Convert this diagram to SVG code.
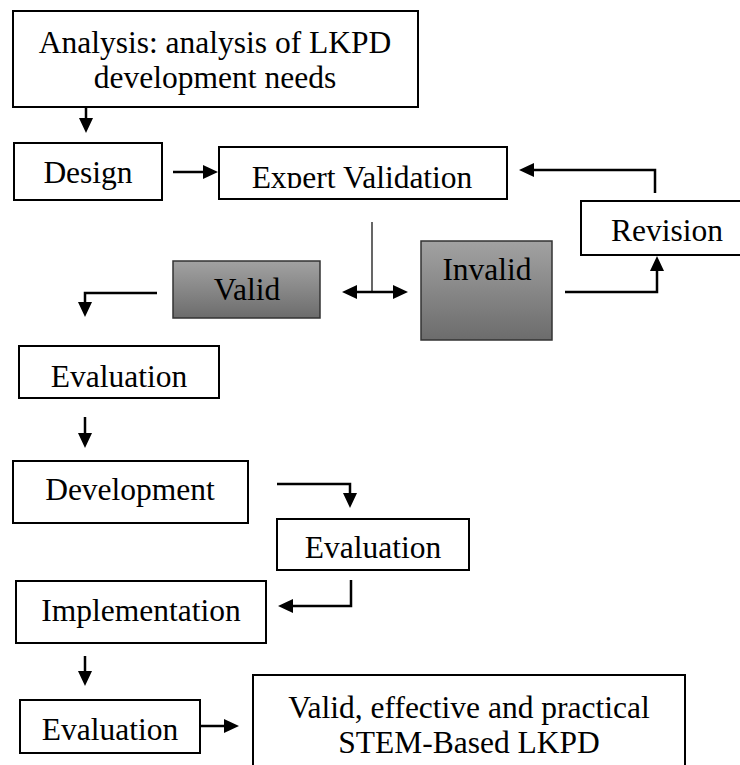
<svg xmlns="http://www.w3.org/2000/svg" width="740" height="765" viewBox="0 0 740 765">
<style>
.box{fill:#fff;stroke:#000;stroke-width:2}
.grey{fill:url(#g);stroke:#333;stroke-width:1.5}
.t{font-family:"Liberation Serif","Times New Roman",serif;font-size:31.5px;fill:#000;text-anchor:middle}
.c{fill:none;stroke:#000;stroke-width:2.5}
.thin{fill:none;stroke:#000;stroke-width:1.2}
</style>
<defs>
<linearGradient id="g" x1="0" y1="0" x2="0" y2="1">
<stop offset="0" stop-color="#a2a2a2"/>
<stop offset="1" stop-color="#6c6c6c"/>
</linearGradient>
<marker id="a" viewBox="0 0 15 14" markerWidth="15" markerHeight="14" refX="11" refY="7" orient="auto-start-reverse" markerUnits="userSpaceOnUse">
<path d="M0,0 L15,7 L0,14 Z" fill="#000"/>
</marker>
<clipPath id="ec"><rect x="219" y="147" width="288" height="41"/></clipPath>
</defs>
<rect width="740" height="765" fill="#fff"/>
<g id="analysis"><rect class="box" x="13" y="11" width="405" height="96"/><text class="t" x="215" y="53">Analysis: analysis of LKPD</text><text class="t" x="215" y="88">development needs</text></g>
<g id="design"><rect class="box" x="14" y="143" width="148" height="57"/><text class="t" x="88" y="183">Design</text></g>
<g id="expert"><rect class="box" x="219" y="147" width="288" height="52"/><text class="t" x="362" y="188" clip-path="url(#ec)">Expert Validation</text></g>
<g id="revision"><rect class="box" x="581" y="201" width="170" height="54"/><text class="t" x="667" y="241">Revision</text></g>
<g id="valid"><rect class="grey" x="173" y="261" width="147" height="57"/><text class="t" x="247" y="300">Valid</text></g>
<g id="invalid"><rect class="grey" x="421" y="241" width="131" height="99"/><text class="t" x="487" y="280">Invalid</text></g>
<g id="evaluation1"><rect class="box" x="19" y="346" width="200" height="52"/><text class="t" x="119" y="387">Evaluation</text></g>
<g id="development"><rect class="box" x="13" y="461" width="235" height="62"/><text class="t" x="130" y="500">Development</text></g>
<g id="evaluation2"><rect class="box" x="277" y="519" width="192" height="51"/><text class="t" x="373" y="558">Evaluation</text></g>
<g id="implementation"><rect class="box" x="16" y="581" width="250" height="62"/><text class="t" x="141" y="621">Implementation</text></g>
<g id="evaluation3"><rect class="box" x="20" y="700" width="180" height="53"/><text class="t" x="110" y="740">Evaluation</text></g>
<g id="result"><rect class="box" x="253" y="675" width="432" height="100"/><text class="t" x="469" y="718">Valid, effective and practical</text><text class="t" x="469" y="753">STEM-Based LKPD</text></g>
<g id="connectors">
<path class="c" d="M86,107 V129" marker-end="url(#a)"/>
<path class="c" d="M173,172 H214" marker-end="url(#a)"/>
<path class="c" d="M655,193 V170 H523" marker-end="url(#a)"/>
<path class="thin" d="M372,222 V292"/>
<path class="c" d="M346,292 H404" marker-start="url(#a)" marker-end="url(#a)"/>
<path class="c" d="M565,292 H657 V260" marker-end="url(#a)"/>
<path class="c" d="M157,293 H85 V313" marker-end="url(#a)"/>
<path class="c" d="M85,417 V444" marker-end="url(#a)"/>
<path class="c" d="M277,484 H350 V504" marker-end="url(#a)"/>
<path class="c" d="M351,580 V606 H282" marker-end="url(#a)"/>
<path class="c" d="M85,656 V682" marker-end="url(#a)"/>
<path class="c" d="M201,726 H235" marker-end="url(#a)"/>
</g>
</svg>
